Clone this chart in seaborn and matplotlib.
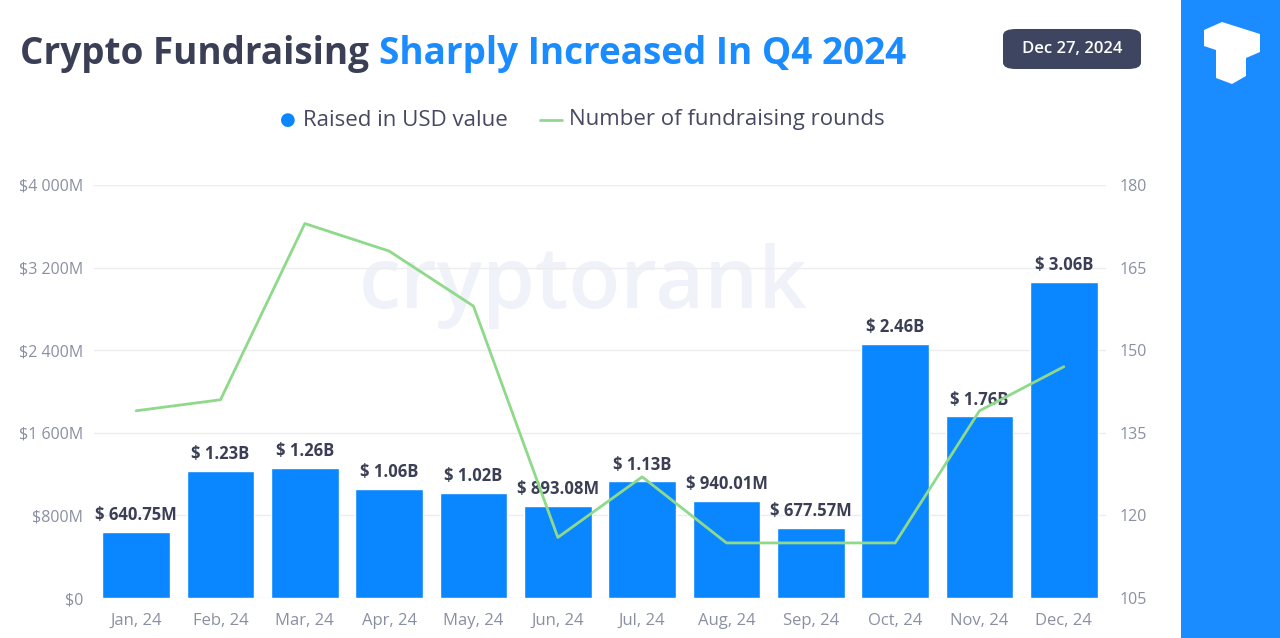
import numpy as np
import pandas as pd
import matplotlib.pyplot as plt
import seaborn as sns
from matplotlib.patches import FancyBboxPatch, Rectangle, Polygon

months = ['Jan, 24', 'Feb, 24', 'Mar, 24', 'Apr, 24', 'May, 24', 'Jun, 24',
          'Jul, 24', 'Aug, 24', 'Sep, 24', 'Oct, 24', 'Nov, 24', 'Dec, 24']
raised_musd = [640.75, 1230, 1260, 1060, 1020, 893.08, 1130, 940.01, 677.57, 2460, 1760, 3060]
bar_labels = ['$ 640.75M', '$ 1.23B', '$ 1.26B', '$ 1.06B', '$ 1.02B', '$ 893.08M',
              '$ 1.13B', '$ 940.01M', '$ 677.57M', '$ 2.46B', '$ 1.76B', '$ 3.06B']
rounds = [139, 141, 173, 168, 158, 116, 127, 115, 115, 115, 139, 147]

left_ticks = [0, 800, 1600, 2400, 3200, 4000]
left_tick_labels = ['$0', '$800M', '$1 600M', '$2 400M', '$3 200M', '$4 000M']
right_ticks = [105, 120, 135, 150, 165, 180]

BLUE = '#0a87ff'
GREEN = '#8fd98a'
DARK = '#3a3f55'
GREY = '#8a90a3'

sns.set_theme(style='white')
plt.rcParams['font.family'] = ['Open Sans', 'DejaVu Sans']

df = pd.DataFrame({'month': months, 'raised': raised_musd, 'rounds': rounds})

fig = plt.figure(figsize=(12.8, 6.38), dpi=100)
ax = fig.add_axes([94 / 1280, 1 - 598 / 638, (1106 - 94) / 1280, (598 - 185) / 638])

# watermark
ax.text(0.483, 0.755, 'cryptorank', transform=ax.transAxes, ha='center', va='center',
        fontsize=61, fontweight='semibold', color='#eff2f8', zorder=0)

sns.barplot(data=df, x='month', y='raised', color=BLUE, saturation=1, width=0.8, ax=ax, zorder=2)
for p, lab in zip(ax.patches, bar_labels):
    ax.text(p.get_x() + p.get_width() / 2, p.get_height() + 75, lab, ha='center', va='bottom',
            fontsize=12, fontweight='bold', color=DARK, zorder=5)

ax.set_ylim(0, 4000)
ax.set_yticks(left_ticks)
ax.set_yticklabels(left_tick_labels)
ax.yaxis.grid(True, color='#ededf0', linewidth=1)
ax.set_axisbelow(True)
ax.set_xlabel('')
ax.set_ylabel('')
ax.tick_params(axis='both', colors=GREY, labelsize=11.5, length=0)
ax.tick_params(axis='y', pad=8)
ax.tick_params(axis='x', labelsize=12, pad=11)
sns.despine(ax=ax, left=True, bottom=True)
ax.set_xlim(-0.5, 11.5)

ax2 = ax.twinx()
sns.lineplot(x=np.arange(len(months)), y=rounds, color=GREEN, linewidth=2, ax=ax2, zorder=3)
ax2.set_ylim(105, 180)
ax2.set_yticks(right_ticks)
ax2.tick_params(axis='y', colors=GREY, labelsize=11.5, length=0, pad=10)
sns.despine(ax=ax2, left=True, bottom=True, right=True)
ax2.grid(False)

# title
t1 = fig.text(20 / 1280, 1 - 64 / 638, 'Crypto Fundraising ', fontsize=26.6, fontweight='bold',
              color=DARK, va='baseline', ha='left')
fig.canvas.draw()
bb = t1.get_window_extent()
fig.text(bb.x1 / 1280, 1 - 64 / 638, 'Sharply Increased In Q4 2024', fontsize=26.6,
         fontweight='bold', color='#1a8cff', va='baseline', ha='left')

# date badge
badge = FancyBboxPatch((1003 / 1280, 1 - 69 / 638), 138 / 1280, 40 / 638,
                       boxstyle='round,pad=0,rounding_size=0.01', transform=fig.transFigure,
                       facecolor='#3d4560', edgecolor='none')
fig.patches.append(badge)
fig.text(1072 / 1280, 1 - 49 / 638, 'Dec 27, 2024', fontsize=12, fontweight='semibold',
         color='white', ha='center', va='center')

# legend
fig.text(288 / 1280, 1 - 120 / 638, '\u25CF', fontsize=13, color=BLUE, ha='center', va='center')
fig.text(303 / 1280, 1 - 120 / 638, 'Raised in USD value', fontsize=16, color='#454a60',
         ha='left', va='center')
fig.lines.append(plt.Line2D([540 / 1280, 562 / 1280], [1 - 120 / 638, 1 - 120 / 638],
                            transform=fig.transFigure, color=GREEN, linewidth=2))
fig.text(569 / 1280, 1 - 120 / 638, 'Number of fundraising rounds', fontsize=16, color='#454a60',
         ha='left', va='center')

# right blue strip with logo
fig.patches.append(Rectangle((1181 / 1280, 0), 99 / 1280, 1, transform=fig.transFigure,
                             facecolor='#1a8cff', edgecolor='none'))
logo = [(1204, 30), (1222, 22), (1260, 34), (1260, 52), (1246, 58), (1246, 76),
        (1232, 84), (1216, 78), (1216, 50), (1204, 46)]
fig.patches.append(Polygon([(x / 1280, 1 - y / 638) for x, y in logo], closed=True,
                           transform=fig.transFigure, facecolor='white', edgecolor='none'))

fig.savefig('out.png', dpi=100, facecolor='white')
